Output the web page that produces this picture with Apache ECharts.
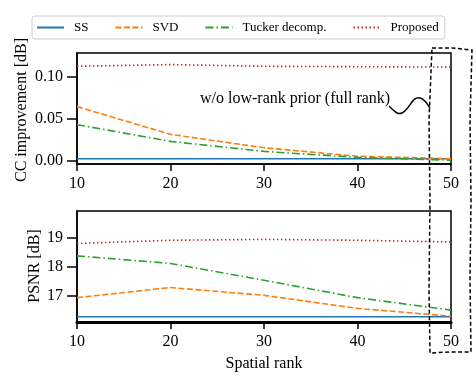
<!DOCTYPE html>
<html>
<head>
<meta charset="utf-8">
<script src="https://cdn.jsdelivr.net/npm/echarts@6/dist/echarts.min.js"></script>
<style>
  html, body { margin: 0; padding: 0; background: #fff; }
  #main { width: 476px; height: 377px; }
</style>
</head>
<body>
<div id="main"></div>
<script>
var chartDom = document.getElementById('main');
var myChart = echarts.init(chartDom);
var option;

// spatial rank values
var ranks = [10, 20, 30, 40, 50];

// CC improvement [dB]
var ccSS = [0.002, 0.002, 0.002, 0.002, 0.002];
var ccSVD = [0.064, 0.031, 0.015, 0.005, 0.002];
var ccTucker = [0.0425, 0.0226, 0.0107, 0.0036, 0.0002];
var ccProposed = [0.112, 0.114, 0.112, 0.1115, 0.111];

// PSNR [dB]
var psnrSS = [16.28, 16.28, 16.28, 16.28, 16.28];
var psnrSVD = [16.94, 17.29, 17.02, 16.57, 16.30];
var psnrTucker = [18.38, 18.12, 17.54, 16.94, 16.51];
var psnrProposed = [18.81, 18.92, 18.95, 18.92, 18.86];

var ccTicks = [0, 0.05, 0.10];
var psnrTicks = [17, 18, 19];

var names = ['SS', 'SVD', 'Tucker decomp.', 'Proposed'];
var colors = ['#1f77b4', '#ff7f0e', '#2ca02c', '#d62728'];
var dashes = ['solid', [6, 2.5], [8, 3, 1.5, 3], [1.5, 2.5]];

var font = 'Liberation Serif';

function pairs(ys) {
    return ranks.map(function (x, i) { return [x, ys[i]]; });
}

function makeSeries(idx, data, axisIdx) {
    return {
        name: names[idx],
        type: 'line',
        xAxisIndex: axisIdx,
        yAxisIndex: axisIdx,
        data: pairs(data),
        symbol: 'none',
        silent: true,
        lineStyle: { color: colors[idx], width: 1.6, type: dashes[idx] },
        itemStyle: { color: colors[idx] }
    };
}

function xAxisCfg(idx, withName, lw) {
    return {
        type: 'value',
        gridIndex: idx,
        min: 10,
        max: 50,
        interval: 10,
        name: withName ? 'Spatial rank' : '',
        nameLocation: 'middle',
        nameGap: 34,
        nameTextStyle: { fontFamily: font, fontSize: 16, color: '#000' },
        axisLine: { onZero: false, lineStyle: { color: '#000', width: lw } },
        axisTick: { inside: false, length: 7, lineStyle: { color: '#000', width: 1.5 } },
        axisLabel: { fontFamily: font, fontSize: 16, color: '#000', margin: 12 },
        splitLine: { show: false }
    };
}

function yAxisCfg(idx, lo, hi, ticks, fmt) {
    return {
        type: 'value',
        gridIndex: idx,
        min: lo,
        max: hi,
        axisLine: { show: true, lineStyle: { color: '#000', width: 1.5 } },
        axisTick: { show: true, length: 10, customValues: ticks, lineStyle: { color: '#000', width: 1.5 } },
        axisLabel: {
            fontFamily: font, fontSize: 16, color: '#000', margin: 14,
            customValues: ticks,
            formatter: fmt
        },
        splitLine: { show: false }
    };
}

// rotated y-axis title
function yTitle(text, x, y) {
    return {
        type: 'text',
        x: x,
        y: y,
        rotation: Math.PI / 2,
        style: {
            text: text, fontFamily: font, fontSize: 16, fill: '#000',
            align: 'center', verticalAlign: 'middle'
        }
    };
}

option = {
    animation: false,
    legend: {
        data: names,
        top: 16,
        left: 32,
        width: 420,
        itemWidth: 27,
        itemHeight: 10,
        itemGap: 26,
        padding: [5, 6, 5, 4],
        borderColor: '#cccccc',
        borderWidth: 1,
        borderRadius: 3,
        itemStyle: { opacity: 0 },
        textStyle: { fontFamily: font, fontSize: 13, color: '#000', padding: [0, 0, 0, 5] }
    },
    grid: [
        { left: 77, right: 25, top: 53, height: 111, show: true, borderColor: '#000', borderWidth: 1.5 },
        { left: 77, right: 25, top: 211, height: 111, show: true, borderColor: '#000', borderWidth: 1.5 }
    ],
    xAxis: [xAxisCfg(0, false, 1.5), xAxisCfg(1, true, 3)],
    yAxis: [
        yAxisCfg(0, -0.0043, 0.1278, ccTicks, function (v) { return v.toFixed(2); }),
        yAxisCfg(1, 16.1, 19.93, psnrTicks, null)
    ],
    series: [
        makeSeries(0, ccSS, 0),
        makeSeries(1, ccSVD, 0),
        makeSeries(2, ccTucker, 0),
        makeSeries(3, ccProposed, 0),
        makeSeries(0, psnrSS, 1),
        makeSeries(1, psnrSVD, 1),
        makeSeries(2, psnrTucker, 1),
        makeSeries(3, psnrProposed, 1)
    ],
    graphic: [
        yTitle('CC improvement [dB]', 22, 110),
        yTitle('PSNR [dB]', 35, 266),
        {
            type: 'text',
            x: 200,
            y: 91,
            z: 100,
            style: { text: 'w/o low-rank prior (full rank)', fontFamily: font, fontSize: 16, fill: '#000' }
        },
        {
            // wavy arrow from the text to the box
            type: 'bezierCurve',
            z: 100,
            shape: { x1: 389, y1: 106, cpx1: 395, cpy1: 112, cpx2: 398, cpy2: 115, x2: 402, y2: 113 },
            style: { fill: null, stroke: '#000', lineWidth: 1.5 }
        },
        {
            type: 'bezierCurve',
            z: 100,
            shape: { x1: 402, y1: 113, cpx1: 410, cpy1: 109, cpx2: 412, cpy2: 96, x2: 420, y2: 98 },
            style: { fill: null, stroke: '#000', lineWidth: 1.5 }
        },
        {
            type: 'bezierCurve',
            z: 100,
            shape: { x1: 420, y1: 98, cpx1: 425, cpy1: 99, cpx2: 427, cpy2: 104, x2: 430, y2: 108 },
            style: { fill: null, stroke: '#000', lineWidth: 1.5 }
        },
        {
            // hand-drawn dashed box around the full-rank column
            type: 'polyline',
            z: 100,
            shape: {
                points: [[432, 48], [452, 48], [472, 50], [470, 120], [471, 200], [470, 280], [471, 352],
                    [450, 352], [430, 353], [429, 290], [430, 200], [429, 120], [432, 48]]
            },
            style: { fill: null, stroke: '#000', lineWidth: 1.5, lineDash: [4, 2.5] }
        }
    ]
};

option && myChart.setOption(option);
</script>
</body>
</html>
